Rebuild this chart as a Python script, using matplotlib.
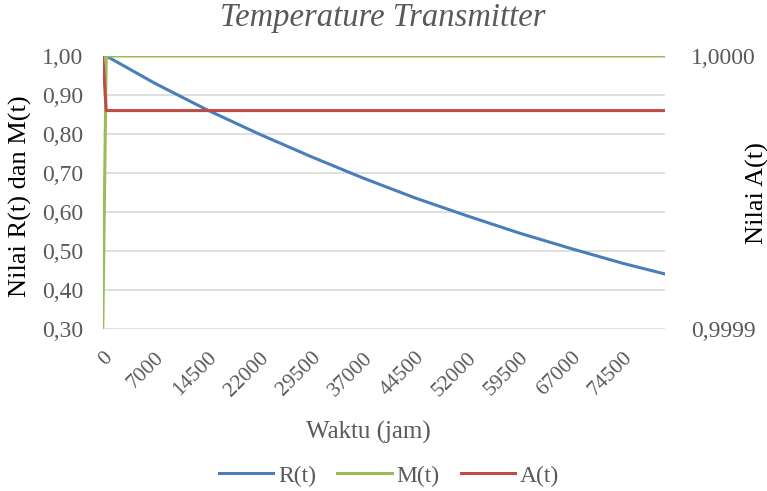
import matplotlib.pyplot as plt
from matplotlib.ticker import FuncFormatter

plt.rcParams['font.family'] = ['Liberation Serif', 'DejaVu Serif']

GRAY = '#595959'
W, H = 767, 491

# time categories (jam) as in the sheet: a starting 0, then every 500 h
waktu = [0] + list(range(0, 81000, 500))

# R(t) at the labelled times
r_jam = [0, 7000, 14500, 22000, 29500, 37000, 44500, 52000, 59500, 67000, 74500, 80500]
r_val = [1.00, 0.93, 0.862, 0.80, 0.742, 0.687, 0.636, 0.590, 0.546, 0.506, 0.468, 0.441]

# M(t) and A(t): first category, second category, last category
ma_idx = [0, 1, len(waktu) - 1]
m_val = [0.30, 1.00, 1.00]
a_val = [1.0000, 0.99998, 0.99998]


def idx_of(t):
    # last category holding time t
    return len(waktu) - 1 - waktu[::-1].index(t)


def px(x, y):
    return x / W, 1 - y / H


fig = plt.figure(figsize=(W / 100, H / 100), dpi=100)
ax = fig.add_axes([0.134, 0.330, 0.733, 0.556])
ax2 = ax.twinx()

ax.plot([idx_of(t) for t in r_jam], r_val, color='#4A7EBB', lw=2.2, label='R(t)')
ax.plot(ma_idx, m_val, color='#9BBB59', lw=2.2, label='M(t)')
ax2.plot(ma_idx, a_val, color='#BE4B48', lw=2.2, label='A(t)')

ax.set_xlim(0, len(waktu) - 1)
ax.set_ylim(0.30, 1.00)
ax.set_yticks([0.3, 0.4, 0.5, 0.6, 0.7, 0.8, 0.9, 1.0])
ax.yaxis.set_major_formatter(FuncFormatter(lambda v, p: f'{v:.2f}'.replace('.', ',')))
ax.grid(axis='y', color='#D9D9D9', lw=1.2)
ax.set_axisbelow(True)

ax2.set_ylim(0.9999, 1.0000)
ax2.set_yticks([0.9999, 1.0000])
ax2.yaxis.set_major_formatter(FuncFormatter(lambda v, p: f'{v:.4f}'.replace('.', ',')))

tick_pos = list(range(0, 151, 15))
ax.set_xticks(tick_pos)
ax.set_xticklabels([str(waktu[i]) for i in tick_pos], rotation=45, ha='right',
                   rotation_mode='anchor')

for a in (ax, ax2):
    for s in a.spines.values():
        s.set_visible(False)
    a.tick_params(length=0, labelsize=17, labelcolor=GRAY)
ax.tick_params(axis='x', labelsize=15.5, pad=14)
ax.tick_params(axis='y', pad=14)
ax2.tick_params(axis='y', pad=19)

fig.text(*px(383, 18), 'Temperature Transmitter', fontsize=23.5, style='italic',
         color=GRAY, ha='center', va='center')
fig.text(*px(20, 196), 'Nilai R(t) dan M(t)', fontsize=19, color='black',
         rotation=90, ha='center', va='center')
fig.text(*px(757, 193), 'Nilai A(t)', fontsize=19, color='black',
         rotation=90, ha='center', va='center')
fig.text(*px(368, 432), 'Waktu (jam)', fontsize=18, color=GRAY,
         ha='center', va='center')

h1, l1 = ax.get_legend_handles_labels()
h2, l2 = ax2.get_legend_handles_labels()
leg = fig.legend(h1 + h2, l1 + l2, loc='center', bbox_to_anchor=px(389, 476), ncol=3,
                 frameon=False, fontsize=17, handlelength=2.3, columnspacing=0.9,
                 handletextpad=0.2)
for t in leg.get_texts():
    t.set_color(GRAY)

fig.savefig('out.png', dpi=100)
